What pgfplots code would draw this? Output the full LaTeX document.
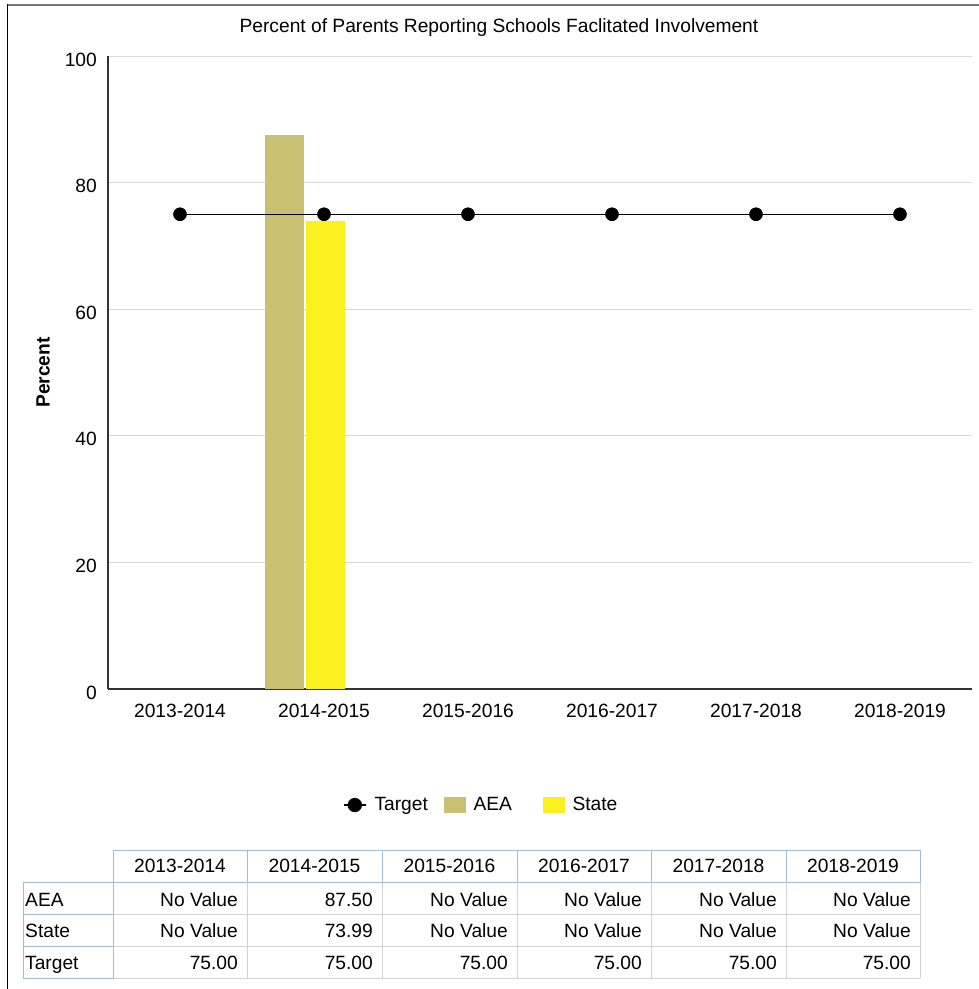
\documentclass[border=0pt]{standalone}
\usepackage{fontspec}
\setmainfont{Liberation Sans}
\usepackage{pgfplots}
\pgfplotsset{compat=1.18}

\definecolor{aea}{RGB}{202,192,113}
\definecolor{state}{RGB}{250,240,32}
\definecolor{gridgray}{RGB}{217,217,217}
\definecolor{axisgray}{RGB}{51,51,51}
\definecolor{framegray}{RGB}{120,120,120}
\definecolor{tblue}{RGB}{160,188,216}
\definecolor{tgray}{RGB}{210,210,210}
\newcommand\cf{\fontsize{19.2}{23}\selectfont}

\begin{document}
\begin{tikzpicture}[x=1pt,y=1pt,font=\cf]
\path[use as bounding box] (0,0) rectangle (979,-989);
% outer frame
\draw[framegray, line width=2pt] (7,-5) -- (979,-5);
\draw[black, line width=1.3pt] (7.5,-4) -- (7.5,-989);

\begin{axis}[
    at={(108pt,-689pt)}, anchor=south west,
    scale only axis, width=864pt, height=633pt,
    xmin=-0.5, xmax=5.5, ymin=0, ymax=100,
    axis x line*=bottom, axis y line*=left,
    axis line style={-, axisgray, line width=1.3pt},
    major tick length=0pt,
    xtick={0,...,5},
    xticklabels={2013-2014,2014-2015,2015-2016,2016-2017,2017-2018,2018-2019},
    xticklabel style={anchor=base, yshift=-28pt, inner sep=0pt, font=\cf},
    ytick={0,20,...,100},
    yticklabel style={anchor=base east, xshift=-11pt, yshift=-10pt, inner sep=0pt, font=\cf},
    /pgf/number format/assume math mode=true,
    ymajorgrids, grid style={gridgray, line width=1pt},
    title={Percent of Parents Reporting Schools Faclitated Involvement},
    title style={at={(axis description cs:0.4525,1.0284)}, anchor=base, font=\cf},
    ylabel={\textbf{Percent}},
    ylabel style={at={(axis description cs:-0.0752,0.5)}, anchor=center, font=\cf},
    legend columns=3,
    legend style={at={(axis description cs:0.2720,-0.1833)}, anchor=west,
        draw=none, fill=none, inner sep=0pt, column sep=0pt,
        nodes={inner sep=0pt},
        /tikz/every odd column/.append style={column sep=8pt}, font=\cf},
]
\addplot[black, line width=1.3pt, mark=*, mark size=6pt,
    mark options={fill=black, draw=black},
    legend image code/.code={\draw[black, line width=1.3pt] (0pt,0pt) -- (22pt,0pt);
        \fill[black] (11pt,0pt) circle (6.5pt);}]
    coordinates {(0,75) (1,75) (2,75) (3,75) (4,75) (5,75)};
\addlegendentry{\makebox[69pt][l]{Target}}

\addplot[ybar, bar width=39pt, bar shift=-39.5pt, fill=aea, draw=none,
    legend image code/.code={\path (0pt,-8pt) rectangle (22pt,8pt);
        \fill[aea] (3pt,-8pt) rectangle (19pt,8pt);}]
    coordinates {(1,87.5)};
\addlegendentry{\makebox[69pt][l]{AEA}}

\addplot[ybar, bar width=39pt, bar shift=1.5pt, fill=state, draw=none,
    legend image code/.code={\path (0pt,-8pt) rectangle (22pt,8pt);
        \fill[state] (3pt,-8pt) rectangle (19pt,8pt);}]
    coordinates {(1,73.99)};
\addlegendentry{\makebox[69pt][l]{State}}

% target line again, on top of the bars
\addplot[black, line width=1.3pt, mark=*, mark size=6pt,
    mark options={fill=black, draw=black}, forget plot]
    coordinates {(0,75) (1,75) (2,75) (3,75) (4,75) (5,75)};
\end{axis}

% data table
\begin{scope}[line width=1pt]
  \foreach \y in {914,946,978} \draw[tgray] (113,-\y) -- (920,-\y);
  \foreach \x in {247,382,517,651,786,920} \draw[tgray] (\x,-882) -- (\x,-978);
  \draw[tblue] (113,-850) rectangle (920,-882);
  \foreach \x in {247,382,517,651,786} \draw[tblue] (\x,-850) -- (\x,-882);
  \draw[tblue] (23,-882) rectangle (113,-978);
  \foreach \y in {914,946} \draw[tblue] (23,-\y) -- (113,-\y);
\end{scope}
\foreach \x/\t in {180/2013-2014,314.5/2014-2015,449.5/2015-2016,584/2016-2017,718.5/2017-2018,853/2018-2019}
  \node[anchor=base, inner sep=0pt] at (\x,-872) {\t};
\node[anchor=base west, inner sep=0pt] at (25,-906) {AEA};
\node[anchor=base west, inner sep=0pt] at (25,-937) {State};
\node[anchor=base west, inner sep=0pt] at (25,-969) {Target};
\foreach \x/\t in {238/No Value,373/87.50,508/No Value,642/No Value,777/No Value,911/No Value}
  \node[anchor=base east, inner sep=0pt] at (\x,-906) {\t};
\foreach \x/\t in {238/No Value,373/73.99,508/No Value,642/No Value,777/No Value,911/No Value}
  \node[anchor=base east, inner sep=0pt] at (\x,-937) {\t};
\foreach \x in {238,373,508,642,777,911}
  \node[anchor=base east, inner sep=0pt] at (\x,-969) {75.00};
\end{tikzpicture}
\end{document}
